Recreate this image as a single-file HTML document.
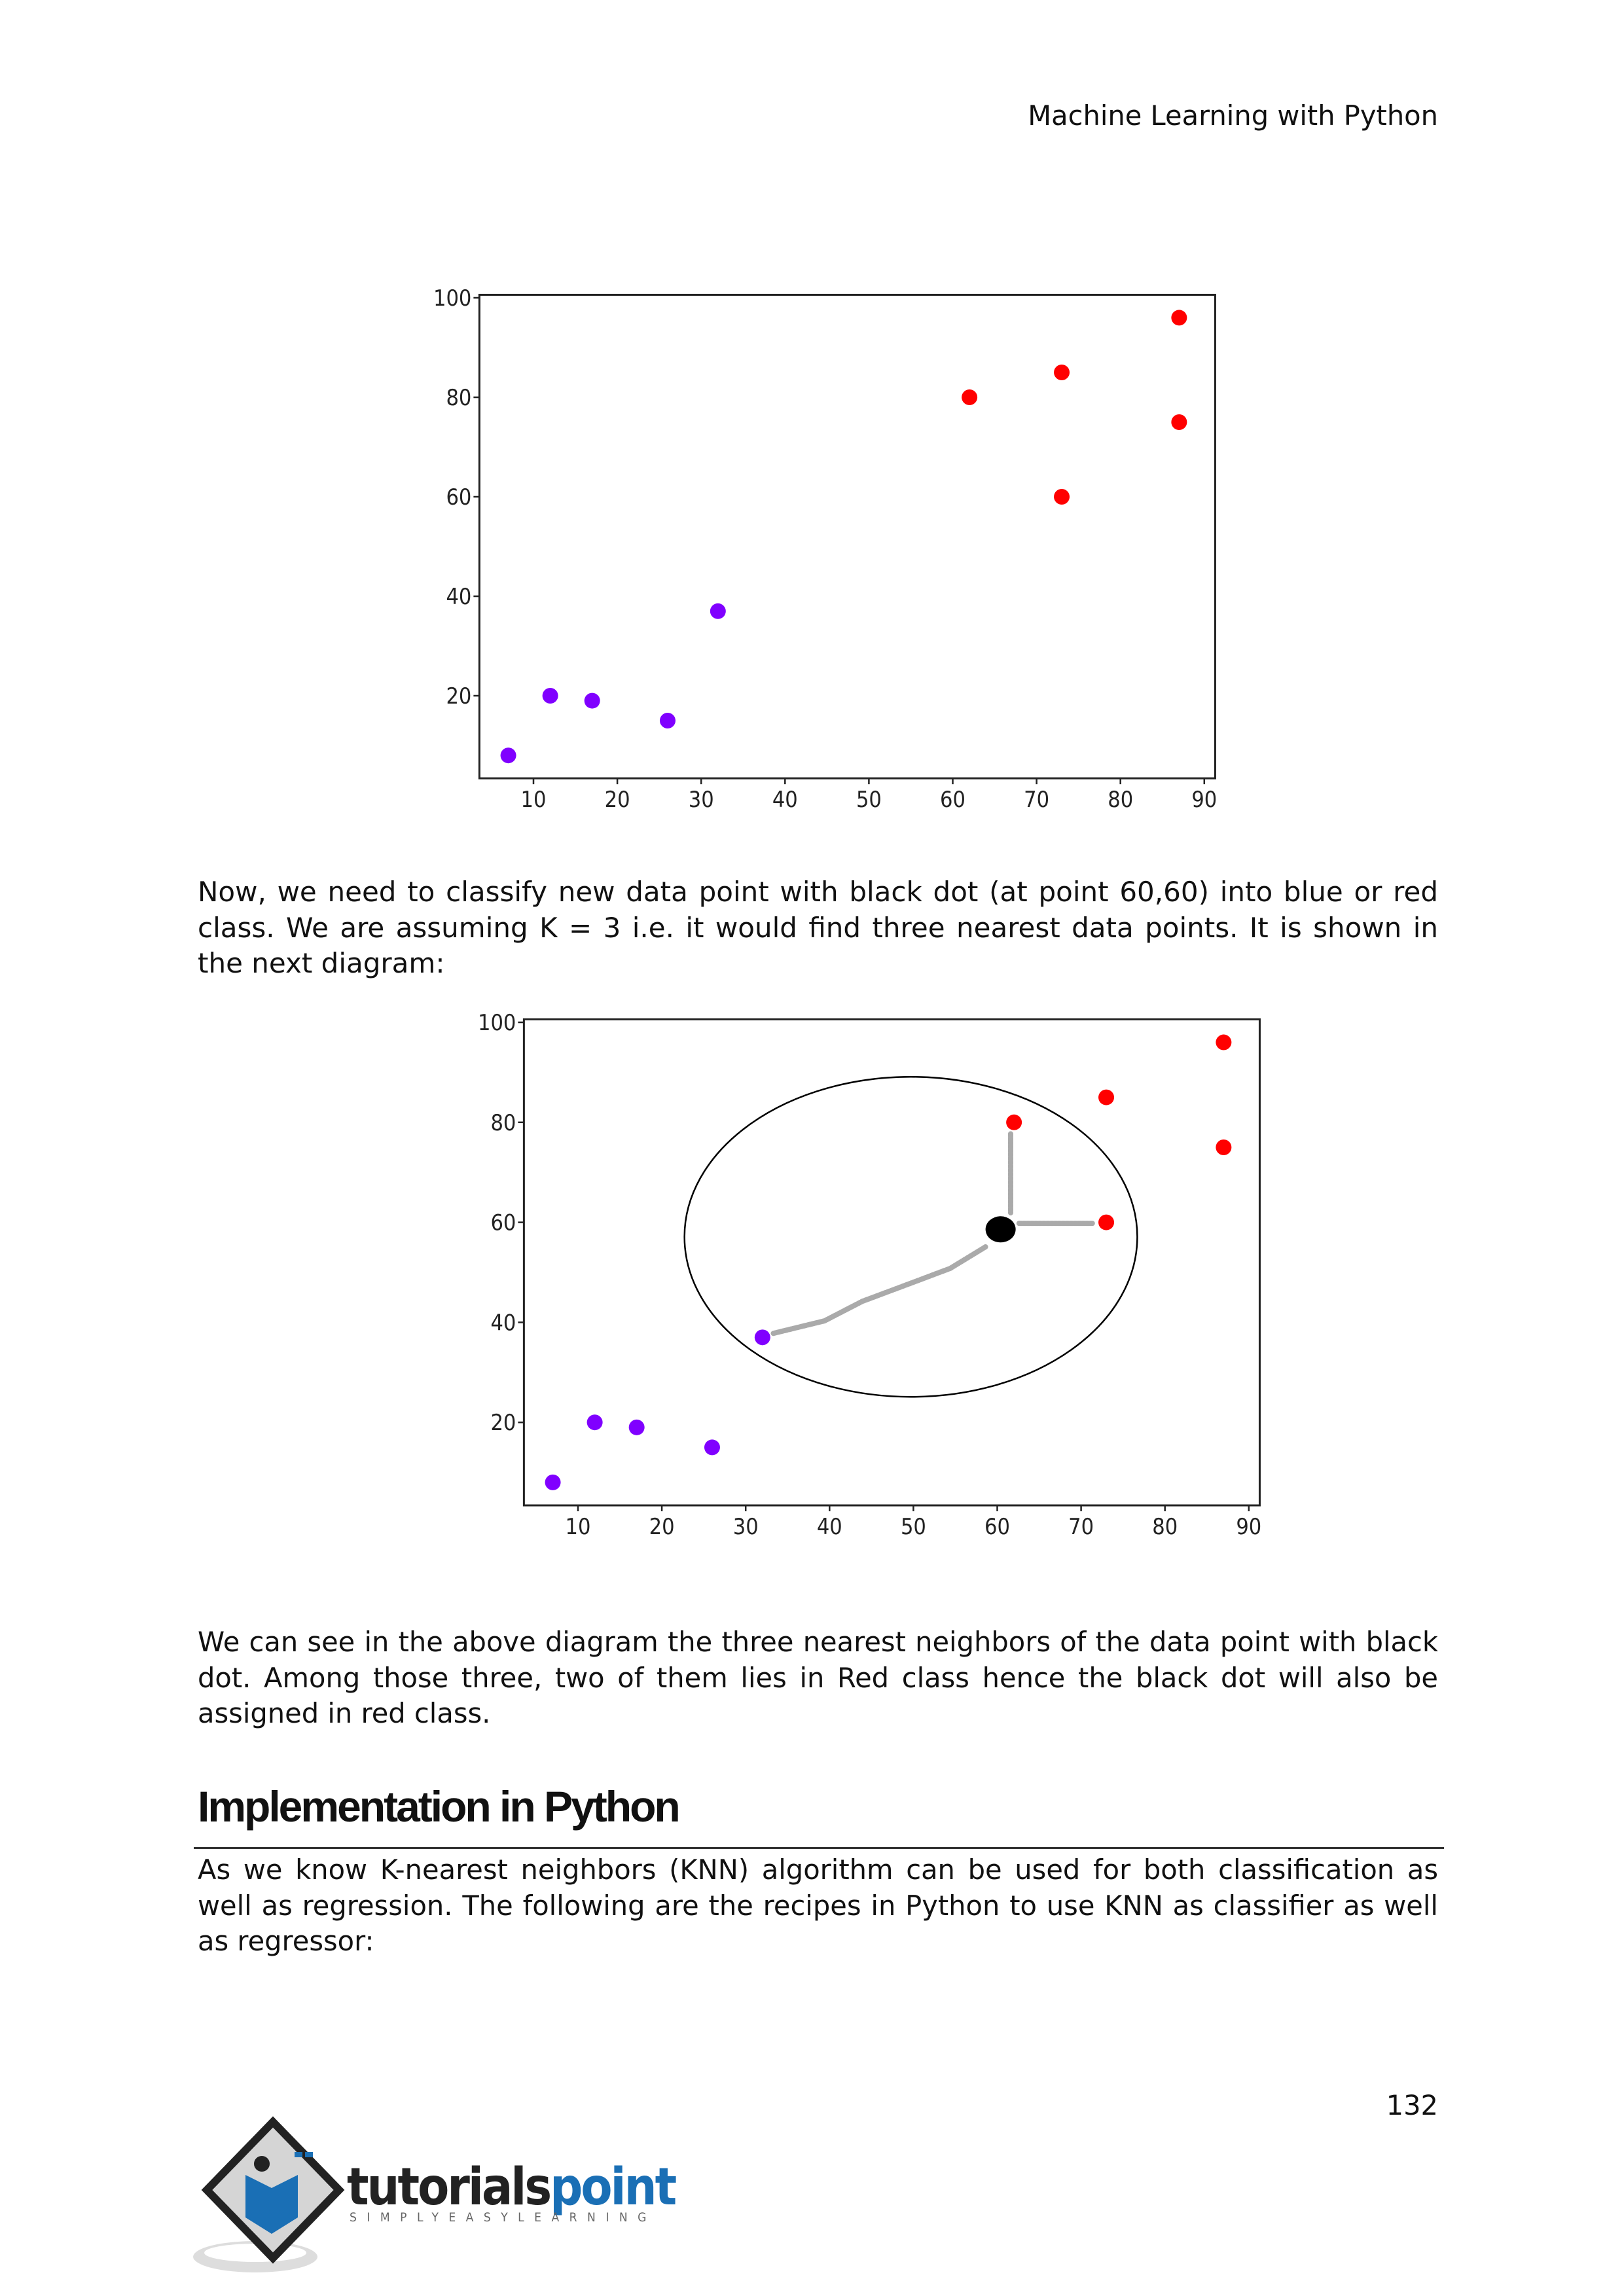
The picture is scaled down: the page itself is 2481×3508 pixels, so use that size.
<!DOCTYPE html>
<html><head><meta charset="utf-8">
<style>
html,body{margin:0;padding:0;background:#fff;}
body{width:2481px;height:3508px;position:relative;overflow:hidden;font-family:"DejaVu Sans","Liberation Sans",sans-serif;color:#111;}
.p{position:absolute;left:302px;width:1895px;font-size:41.6px;line-height:54.5px;text-align:justify;}
.hdr{position:absolute;right:284px;top:152px;font-size:41.6px;}
svg text{font-family:"DejaVu Sans Condensed","DejaVu Sans",sans-serif;}
</style></head><body>
<div class="hdr">Machine Learning with Python</div>

<svg id="c1" width="2481" height="900" style="position:absolute;left:0;top:400px"></svg>

<div class="p" style="top:1336px;font-size:42px">Now, we need to classify new data point with black dot (at point 60,60) into blue or red class. We are assuming K = 3 i.e. it would find three nearest data points. It is shown in the next diagram:</div>

<svg id="c2" width="2481" height="900" style="position:absolute;left:0;top:1500px"></svg>

<div class="p" style="top:2482px">We can see in the above diagram the three nearest neighbors of the data point with black dot. Among those three, two of them lies in Red class hence the black dot will also be assigned in red class.</div>

<div style="position:absolute;left:302px;top:2722px;font-family:'Liberation Sans',sans-serif;font-weight:bold;font-size:66px;letter-spacing:-3px;">Implementation in Python</div>
<div style="position:absolute;left:296px;top:2822px;width:1910px;height:3px;background:#333;"></div>

<div class="p" style="top:2830px">As we know K-nearest neighbors (KNN) algorithm can be used for both classification as well as regression. The following are the recipes in Python to use KNN as classifier as well as regressor:</div>

<div style="position:absolute;right:284px;top:3192px;font-size:41.6px;">132</div>

<svg width="900" height="260" style="position:absolute;left:290px;top:3228px">
 <ellipse cx="100" cy="220" rx="95" ry="24" fill="#ddd"/>
 <ellipse cx="100" cy="214" rx="78" ry="14" fill="#fff"/>
 <polygon points="127,14 228,118 127,222 26,118" fill="#d5d5d5" stroke="#222" stroke-width="12"/>
 <circle cx="110" cy="78" r="12" fill="#222"/>
 <path d="M85 95 L125 115 L165 95 L165 160 L125 185 L85 160 Z" fill="#1a6fb5"/>
 <rect x="160" y="60" width="12" height="8" fill="#1a6fb5"/><rect x="176" y="60" width="12" height="8" fill="#1a6fb5"/>
 <text x="240" y="140" font-family="Liberation Sans,sans-serif" font-weight="bold" font-size="78" letter-spacing="-3" fill="#222">tutorials<tspan fill="#1a6fb5">point</tspan></text>
 <text x="244" y="166" font-family="Liberation Sans,sans-serif" font-size="19" letter-spacing="15.5" fill="#666">SIMPLYEASYLEARNING</text>
</svg>

<script>
const blueX=[7,12,17,26,32];
const blueY=[8,20,19,15,37];
const redX=[62,73,87,87,73];
const redY=[80,85,96,75,60];
const xTicks=[10,20,30,40,50,60,70,80,90];
const yTicks=[20,40,60,80,100];
const newPoint=[60.4,58.6];
const circleCenter=[49.7,57.1];
const circleRadius=[27,32];
const pathToBlue=[[33.3,37.8],[39.4,40.3],[43.9,44.2],[49.8,47.9],[54.4,50.8],[58.6,55.1]];
const pathToRed1=[[61.6,77.7],[61.6,61.9]];
const pathToRed2=[[62.6,59.8],[71.4,59.8]];

const NS='http://www.w3.org/2000/svg';
function mk(svg,tag,attrs){const e=document.createElementNS(NS,tag);for(const k in attrs)e.setAttribute(k,attrs[k]);svg.appendChild(e);return e;}

function draw(svg,ox,oy,uy,knn){
  const sx=v=>ox+(v-10)*12.81;
  const sy=v=>oy+(100-v)*uy;
  const L=sx(3.55),R=sx(91.3),T=sy(100.6),B=sy(3.4);
  const fr=mk(svg,'rect',{x:L,y:T,width:R-L,height:B-T,fill:'none',stroke:'#222','stroke-width':3});
  
  
  xTicks.forEach(t=>{
    const l=mk(svg,'line',{x1:sx(t),x2:sx(t),y1:B,y2:B+9,stroke:'#222','stroke-width':2.5});
    
    
    const tx=mk(svg,'text',{x:sx(t),y:B+44,'text-anchor':'middle','font-size':34,fill:'#222'});
    tx.textContent=t;
    
    
  });
  yTicks.forEach(t=>{
    const l=mk(svg,'line',{x1:L-9,x2:L,y1:sy(t),y2:sy(t),stroke:'#222','stroke-width':2.5});
    
    
    const tx=mk(svg,'text',{x:L-12,y:sy(t)+12,'text-anchor':'end','font-size':34,fill:'#222'});
    tx.textContent=t;
    
    
  });
  if(knn){
    const c=mk(svg,'ellipse',{cx:sx(circleCenter[0]),cy:sy(circleCenter[1]),rx:circleRadius[0]*12.81,ry:circleRadius[1]*uy,fill:'none',stroke:'#000','stroke-width':2.5});
    
    
    [pathToBlue,pathToRed1,pathToRed2].forEach(p=>{
      const pl=mk(svg,'polyline',{points:p.map(q=>sx(q[0])+','+sy(q[1])).join(' '),fill:'none',stroke:'#aaa','stroke-width':8,'stroke-dasharray':'4 2','stroke-linecap':'round'});
      
      
    });
  }
  blueX.forEach((x,i)=>{
    const d=mk(svg,'ellipse',{cx:sx(x),cy:sy(blueY[i]),rx:12,ry:12,fill:'#8000ff'});
    
    
  });
  redX.forEach((x,i)=>{
    const d=mk(svg,'ellipse',{cx:sx(x),cy:sy(redY[i]),rx:12,ry:12,fill:'#ff0000'});
    
    
  });
  if(knn){
    const b=mk(svg,'ellipse',{cx:sx(newPoint[0]),cy:sy(newPoint[1]),rx:23,ry:20,fill:'#000'});
    
    
  }
}
draw(document.getElementById('c1'),815,55,7.6,false);
draw(document.getElementById('c2'),883,62,7.64,true);
</script>
</body></html>
